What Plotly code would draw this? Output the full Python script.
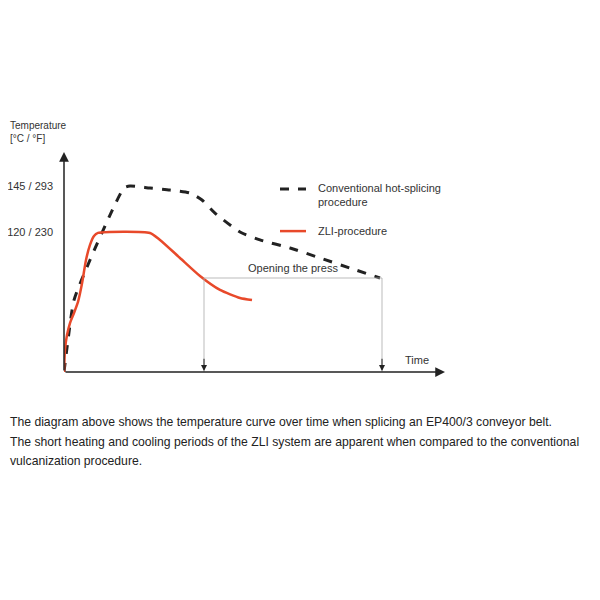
import plotly.graph_objects as go

# time (arbitrary units), temperature (°C)
zlj_t = [0, 1, 3, 6, 10, 14, 18, 22, 26, 30, 34, 86, 96, 116, 136, 156, 176, 188]
zlj_temp = [43.9, 56.0, 64.0, 70.5, 76.0, 82.0, 92.0, 104.8, 113.0, 117.8, 119.5, 119.5, 115.7, 105.9, 96.1, 88.5, 84.1, 83.0]
conv_t = [0, 4, 10, 26, 46, 60, 66, 86, 106, 126, 138, 151, 176, 196, 226, 256, 286, 316]
conv_temp = [43.9, 61.3, 83.0, 104.8, 129.2, 143.9, 145.0, 143.9, 142.8, 141.2, 137.4, 130.3, 120.0, 115.7, 111.3, 105.9, 100.4, 95.0]
open_t = [140, 318]
open_temp = 95.0
y_ticks = [120, 145]
y_labels = ["120 / 230", "145 / 293"]
caption_lines = [
    "The diagram above shows the temperature curve over time when splicing an EP400/3 conveyor belt.",
    "The short heating and cooling periods of the ZLI system are apparent when compared to the conventional",
    "vulcanization procedure.",
]

Y0, YTOP, XEND = 43.9, 163.5, 381
fig = go.Figure()
fig.add_trace(go.Scatter(x=conv_t, y=conv_temp, mode="lines", line=dict(color="#222", width=3, dash="dash", shape="spline", smoothing=0.6), hoverinfo="skip"))
fig.add_trace(go.Scatter(x=zlj_t, y=zlj_temp, mode="lines", line=dict(color="#e8492a", width=2.5, shape="spline", smoothing=0.6), hoverinfo="skip"))
fig.add_trace(go.Scatter(x=[open_t[0], open_t[0], None, open_t[0], open_t[1], None, open_t[1], open_t[1]],
                         y=[Y0, open_temp, None, open_temp, open_temp, None, open_temp, Y0],
                         mode="lines", line=dict(color="#aaa", width=0.8), hoverinfo="skip"))
ann = []
for t in open_t:
    ann.append(dict(x=t, y=Y0 + 0.5, ax=t, ay=Y0 + 8, xref="x", yref="y", axref="x", ayref="y", text="",
                    showarrow=True, arrowhead=2, arrowsize=1.2, arrowwidth=1, arrowcolor="#222"))
ann.append(dict(x=0, y=YTOP, ax=0, ay=Y0, xref="x", yref="y", axref="x", ayref="y", text="",
                showarrow=True, arrowhead=2, arrowsize=1.3, arrowwidth=1.5, arrowcolor="#222"))
ann.append(dict(x=XEND, y=Y0, ax=0, ay=Y0, xref="x", yref="y", axref="x", ayref="y", text="",
                showarrow=True, arrowhead=2, arrowsize=1.3, arrowwidth=1.5, arrowcolor="#222"))
fam = "Liberation Sans, Arial"
f = dict(family=fam, size=11, color="#333")
ann += [
    dict(x=-56/381, y=1 + 6/220, xref="paper", yref="paper", xanchor="left", yanchor="bottom",
         text="Temperature<br>[°C / °F]", showarrow=False, font=dict(family=fam, size=10, color="#333"), align="left"),
    dict(x=339, y=Y0 + 2, xref="x", yref="y", xanchor="left", yanchor="bottom", text="Time", showarrow=False, font=f),
    dict(x=229, y=open_temp + 1, xref="x", yref="y", xanchor="center", yanchor="bottom", text="Opening the press", showarrow=False, font=f),
    dict(x=252, y=140.2, xref="x", yref="y", xanchor="left", yanchor="middle", text="Conventional hot-splicing<br>procedure", showarrow=False, font=f, align="left"),
    dict(x=252, y=120.5, xref="x", yref="y", xanchor="left", yanchor="middle", text="ZLI-procedure", showarrow=False, font=f),
]
fig.add_shape(type="line", x0=216, x1=242, y0=143.4, y1=143.4, xref="x", yref="y", line=dict(color="#222", width=3, dash="dash"))
fig.add_shape(type="line", x0=216, x1=242, y0=120.5, y1=120.5, xref="x", yref="y", line=dict(color="#e8492a", width=2.5))
for i, line in enumerate(caption_lines):
    ann.append(dict(x=-56/381, y=-(422 - 372 + 19.5 * i) / 220, xref="paper", yref="paper", xanchor="left", yanchor="middle",
                    text=line, showarrow=False, align="left", font=dict(family=fam, size=12.2, color="#222")))
fig.update_layout(annotations=ann, width=592, height=592, showlegend=False,
                  margin=dict(l=56, r=155, t=144, b=228, autoexpand=False), plot_bgcolor="white", paper_bgcolor="white",
                  xaxis=dict(range=[0, XEND], visible=False, automargin=False),
                  yaxis=dict(range=[Y0, YTOP], tickvals=y_ticks, ticktext=y_labels, showgrid=False, zeroline=False,
                             showline=False, ticks="", automargin=False, ticklabelstandoff=10,
                             tickfont=dict(family=fam, size=11, color="#333")))
fig.write_html("out.html")
